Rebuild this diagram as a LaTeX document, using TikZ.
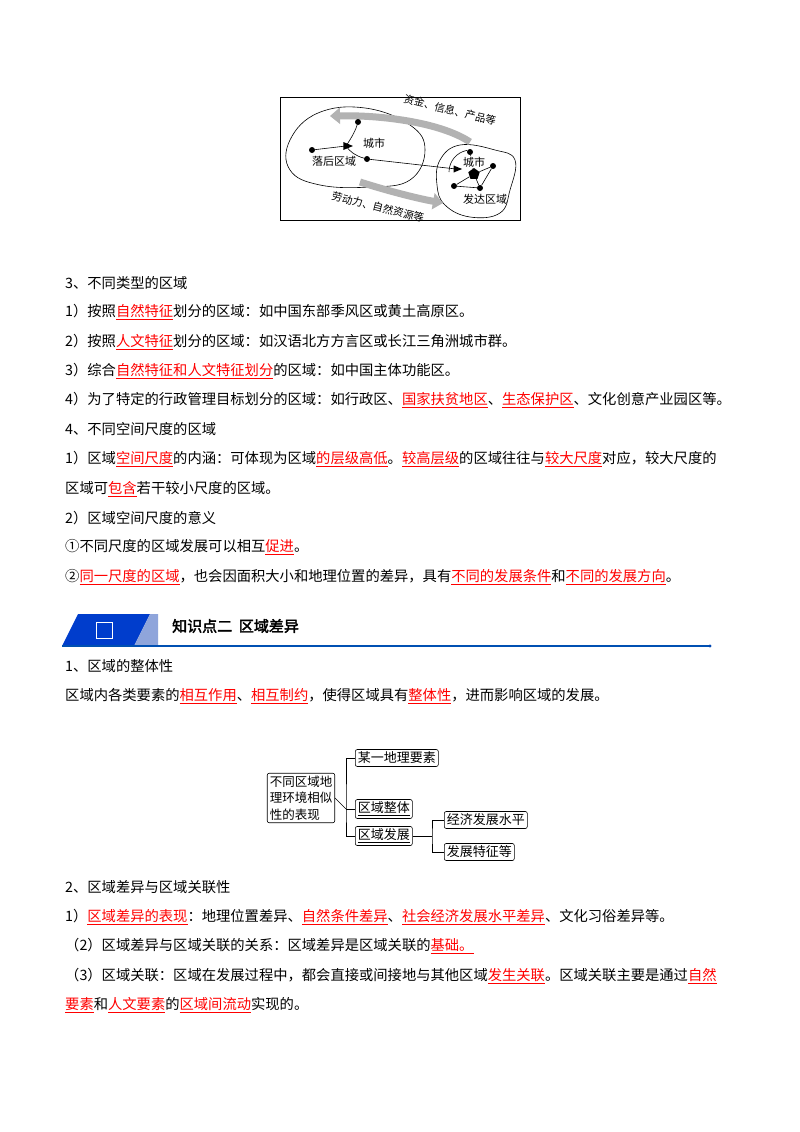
\documentclass[tikz,border=0pt]{standalone}
\usepackage{fontspec}
\setmainfont{Noto Sans CJK SC}
\newfontfamily\cjkb[AutoFakeBold=2.5]{Noto Sans CJK SC}
\usetikzlibrary{arrows.meta,shapes.geometric}
\newcommand\myul[1]{\underline{#1}}
\newcommand\rl[1]{\textcolor{red}{\underline{#1}}}
\tikzset{
  txt/.style={anchor=west,inner sep=0pt,font=\fontsize{14.3}{16}\selectfont},
  mbox/.style={draw,rounded corners=2pt,inner sep=2.5pt,font=\fontsize{13}{15}\selectfont,line width=0.6pt},
  dot/.style={circle,fill=black,inner sep=0pt,minimum size=6pt},
  conn/.style={line width=0.6pt},
  bigarr/.style={line width=7pt,gray!60,-{Triangle[length=10pt,width=16pt]}},
  flab/.style={font=\fontsize{10.5}{11}\selectfont,inner sep=0pt}
}
\begin{document}
\begin{tikzpicture}[x=1pt,y=-1pt]
\useasboundingbox[fill=white] (0,0) rectangle (800,1132);
% ---- top figure
\node[draw,line width=0.6pt,minimum width=240pt,minimum height=123pt,anchor=north west,inner sep=0pt] (frame) at (280,97) {};
\draw[line width=0.6pt] plot[smooth cycle,tension=0.7] coordinates {(290,140) (318,113) (365,108) (410,125) (425,150) (410,180) (370,187) (320,185) (290,170)};
\draw[line width=0.6pt] plot[smooth cycle,tension=0.7] coordinates {(440,160) (460,145) (495,150) (515,160) (510,190) (500,213) (470,217) (445,205) (437,185)};
\draw[bigarr] (470,142) .. controls (440,122) and (380,115) .. (330,116);
\draw[bigarr] (360,182) .. controls (385,190) and (415,198) .. (443,203);
\node[flab,rotate=-14] (t1) at (450,110) {资金、信息、产品等};
\node[flab,rotate=-14] (t2) at (378,207) {劳动力、自然资源等};
\node[dot] (a1) at (358,122) {};
\node[dot] (a2) at (312,150) {};
\node[dot] (a3) at (367,159) {};
\coordinate (c1) at (346,146);
\draw[line width=0.6pt] (a1) .. controls (355,132) and (350,140) .. (c1);
\draw[line width=0.6pt] (a2) -- (c1);
\draw[line width=0.6pt] (c1) .. controls (350,152) and (356,156) .. (a3);
\node[isosceles triangle,fill=black,inner sep=0pt,minimum size=8pt] (tri1) at (c1) {};
\node[flab,font=\fontsize{11}{12}\selectfont] (l1) at (374,143) {城市};
\node[flab,font=\fontsize{11}{12}\selectfont] (l2) at (334,161) {落后区域};
\node[dot] (b1) at (470,152) {};
\node[dot] (b2) at (493,166) {};
\node[dot] (b3) at (454,186) {};
\node[dot] (b4) at (480,188) {};
\node[fill=black,regular polygon,regular polygon sides=5,inner sep=0pt,minimum size=12pt] (bc) at (474,174) {};
\draw[line width=0.6pt] (b1) -- (bc) (b2) -- (bc) (b3) -- (bc) (b4) -- (bc) (b3) -- (b4) (b2) -- (b4);
\draw[line width=0.6pt] (449,172) arc (180:260:22);
\draw[line width=0.6pt] (a3) -- (456,169);
\node[isosceles triangle,fill=black,inner sep=0pt,minimum size=7pt] (tri2) at (456,169) {};
\node[flab,font=\fontsize{11}{12}\selectfont,fill=white,inner sep=1pt] (l3) at (474,162) {城市};
\node[flab,font=\fontsize{11}{12}\selectfont] (l4) at (485,199) {发达区域};
% ---- text
\node[txt] (p1) at (65,283) {3、不同类型的区域};
\node[txt] (p2) at (65,312) {1）按照\rl{自然特征}划分的区域：如中国东部季风区或黄土高原区。};
\node[txt] (p3) at (65,342) {2）按照\rl{人文特征}划分的区域：如汉语北方方言区或长江三角洲城市群。};
\node[txt] (p4) at (65,371) {3）综合\rl{自然特征和人文特征划分}的区域：如中国主体功能区。};
\node[txt] (p5) at (65,400) {4）为了特定的行政管理目标划分的区域：如行政区、\rl{国家扶贫地区}、\rl{生态保护区}、文化创意产业园区等。};
\node[txt] (p6) at (65,429) {4、不同空间尺度的区域};
\node[txt] (p7) at (65,459) {1）区域\rl{空间尺度}的内涵：可体现为区域\rl{的层级高低}。\rl{较高层级}的区域往往与\rl{较大尺度}对应，较大尺度的};
\node[txt] (p8) at (65,489) {区域可\rl{包含}若干较小尺度的区域。};
\node[txt] (p9) at (65,518) {2）区域空间尺度的意义};
\node[txt] (p10) at (65,547) {①不同尺度的区域发展可以相互\rl{促进}。};
\node[txt] (p11) at (65,577) {②\rl{同一尺度的区域}，也会因面积大小和地理位置的差异，具有\rl{不同的发展条件}和\rl{不同的发展方向}。};
% ---- header
\fill[blue!70!cyan!80!black] (78,614) -- (150,614) -- (134,646) -- (62,646) -- cycle;
\fill[cyan!40!blue!45] (150,614) -- (158,614) -- (158,646) -- (134,646) -- cycle;
\node[draw=white,line width=1pt,minimum width=16pt,minimum height=16pt,inner sep=0pt] (icon) at (104,630) {};
\node[anchor=west,inner sep=0pt,font=\cjkb\bfseries\fontsize{15}{17}\selectfont] (h) at (172,626) {知识点二\ \ 区域差异};
\draw[blue!55!cyan!70!black,line width=1.2pt] (62,646) -- (710,646);
\fill[blue!60!cyan!70!black] (710,646) circle (1.6pt);
% ---- text 2
\node[txt] (q1) at (65,666) {1、区域的整体性};
\node[txt] (q2) at (65,696) {区域内各类要素的\rl{相互作用}、\rl{相互制约}，使得区域具有\rl{整体性}，进而影响区域的发展。};
% ---- mind map
\node[mbox,align=left,font=\fontsize{12.5}{16.5}\selectfont] (m0) at (301,798) {不同区域地\\理环境相似\\性的表现};
\node[mbox,anchor=west] (m1) at (355,758) {某一地理要素};
\node[mbox,anchor=west] (m2) at (355,809) {\myul{区域整体}};
\node[mbox,anchor=west] (m3) at (355,836) {\myul{区域发展}};
\node[mbox,anchor=west] (m4) at (444,820) {经济发展水平};
\node[mbox,anchor=west] (m5) at (444,852) {发展特征等};
\coordinate (j1) at (346,809);
\draw[conn] (m0.east) -- (j1);
\draw[conn] (m1.west) -| (j1) |- (m3.west);
\draw[conn] (j1) -- (m2.west);
\coordinate (j2) at (432,836);
\draw[conn] (m3.east) -- (j2);
\draw[conn] (m4.west) -| (j2) |- (m5.west);
% ---- text 3
\node[txt] (r1) at (65,887) {2、区域差异与区域关联性};
\node[txt] (r2) at (65,917) {1）\rl{区域差异的表现}：地理位置差异、\rl{自然条件差异}、\rl{社会经济发展水平差异}、文化习俗差异等。};
\node[txt] (r3) at (65,946) {（2）区域差异与区域关联的关系：区域差异是区域关联的\rl{基础。}};
\node[txt] (r4) at (65,976) {（3）区域关联：区域在发展过程中，都会直接或间接地与其他区域\rl{发生关联}。区域关联主要是通过\rl{自然}};
\node[txt] (r5) at (65,1005) {\rl{要素}和\rl{人文要素}的\rl{区域间流动}实现的。};
\end{tikzpicture}
\end{document}
